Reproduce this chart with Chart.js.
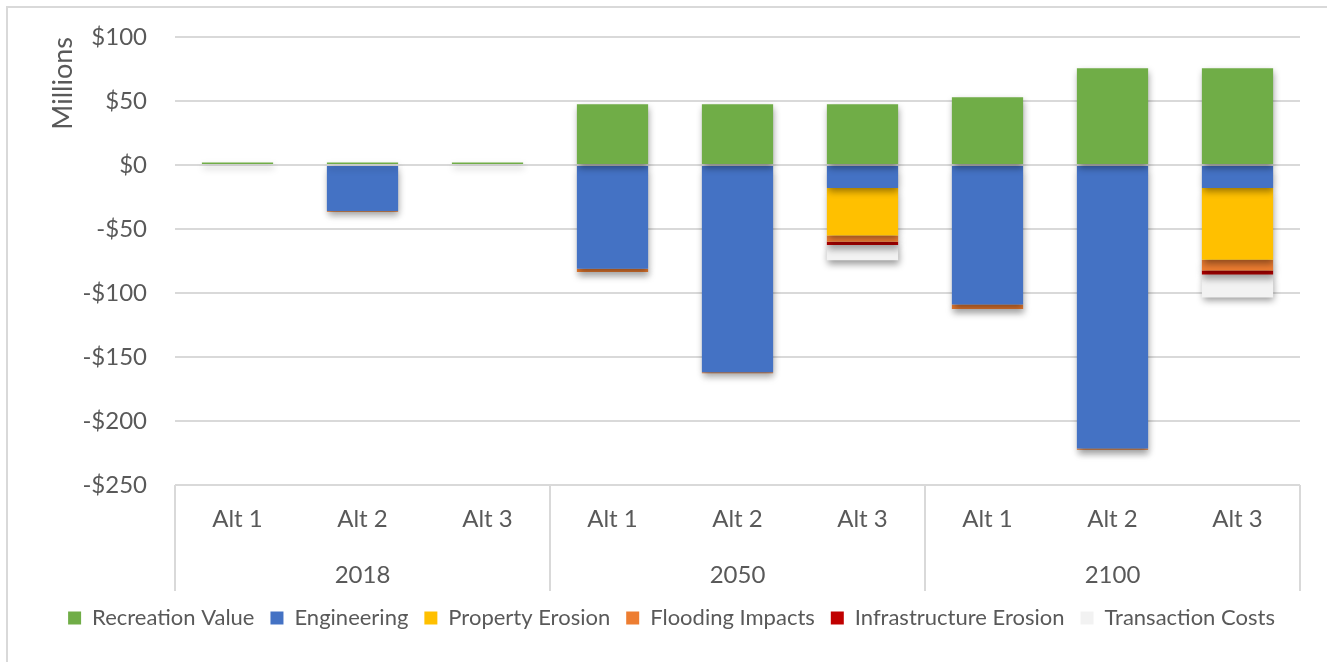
<!DOCTYPE html>
<html>
<head>
<meta charset="utf-8">
<script src="https://cdn.jsdelivr.net/npm/chart.js@4.4.1/dist/chart.umd.min.js"></script>
<style>
  body { margin: 0; background: #ffffff; }
  #wrap { position: relative; width: 1327px; height: 662px; }
</style>
</head>
<body>
<div id="wrap"><canvas id="chart"></canvas></div>
<script>
// Categories (Alt under each year)
const alts = ["Alt 1", "Alt 2", "Alt 3", "Alt 1", "Alt 2", "Alt 3", "Alt 1", "Alt 2", "Alt 3"];
const years = ["2018", "2050", "2100"];

// Values in millions of dollars
const recreation = [2, 2, 2, 47.5, 47.5, 47.5, 53, 75.5, 75.5];
const engineering = [0, -36, 0, -81, -162, -18, -109, -221.5, -18];
const propertyErosion = [0, 0, 0, 0, 0, -37, 0, 0, -56];
const flooding = [0, -0.6, 0, -2.5, -0.7, -5, -3.5, -1, -8.5];
const infrastructure = [0, 0, 0, 0, 0, -2.5, 0, 0, -3];
const transaction = [0, 0, 0, 0, 0, -12, 0, 0, -18];

const textColor = "#595959";
const gridColor = "#d9d9d9";
const fontFamily = "Lato, 'Open Sans', sans-serif";

// Soft shadow under the bars, like the spreadsheet effect
const shadowPlugin = {
  id: "shadow",
  beforeDatasetsDraw(chart) {
    const ctx = chart.ctx;
    ctx.save();
    ctx.shadowColor = "rgba(0,0,0,0.4)";
    ctx.shadowBlur = 7;
    ctx.shadowOffsetX = 1;
    ctx.shadowOffsetY = 4;
  },
  afterDatasetsDraw(chart) {
    chart.ctx.restore();
  }
};

// Outer frame and the group separators of the two-level axis
const framePlugin = {
  id: "frame",
  afterDraw(chart) {
    const ctx = chart.ctx;
    const x = chart.scales.x;
    const x2 = chart.scales.x2;
    const step = x.getPixelForValue(1) - x.getPixelForValue(0);
    ctx.save();
    ctx.strokeStyle = gridColor;
    ctx.lineWidth = 2;
    ctx.beginPath();
    ctx.moveTo(7, chart.height);
    ctx.lineTo(7, 7);
    ctx.lineTo(chart.width, 7);
    ctx.stroke();
    for (let i = 0; i <= alts.length; i += 3) {
      const px = Math.round(x.getPixelForValue(0) - step / 2 + i * step);
      ctx.beginPath();
      ctx.moveTo(px, chart.chartArea.bottom);
      ctx.lineTo(px, x2.bottom);
      ctx.stroke();
    }
    ctx.restore();
  }
};

const makeSet = (label, data, color) => ({
  label: label,
  data: data,
  backgroundColor: color,
  borderWidth: 0,
  barPercentage: 0.57,
  categoryPercentage: 1.0
});

new Chart(document.getElementById("chart"), {
  type: "bar",
  plugins: [shadowPlugin, framePlugin],
  data: {
    labels: alts,
    datasets: [
      makeSet("Recreation Value", recreation, "#70ad47"),
      makeSet("Engineering", engineering, "#4472c4"),
      makeSet("Property Erosion", propertyErosion, "#ffc000"),
      makeSet("Flooding Impacts", flooding, "#ed7d31"),
      makeSet("Infrastructure Erosion", infrastructure, "#c00000"),
      makeSet("Transaction Costs", transaction, "#f2f2f2")
    ]
  },
  options: {
    responsive: true,
    maintainAspectRatio: false,
    animation: false,
    layout: {
      padding: { left: 43, right: 27, top: 37, bottom: 23 }
    },
    plugins: {
      tooltip: { enabled: false },
      legend: {
        position: "bottom",
        labels: {
          color: textColor,
          font: { family: fontFamily, size: 22 },
          boxWidth: 13,
          boxHeight: 13,
          padding: 16
        }
      }
    },
    scales: {
      x: {
        stacked: true,
        grid: { display: false, drawTicks: false },
        border: { display: false },
        ticks: {
          color: textColor,
          font: { family: fontFamily, size: 24 },
          padding: 20,
          maxRotation: 0
        },
        afterFit: (scale) => { scale.height = 55; }
      },
      x2: {
        type: "category",
        labels: years,
        position: "bottom",
        weight: 1,
        offset: true,
        grid: { display: false, drawTicks: false },
        border: { display: false },
        ticks: {
          color: textColor,
          font: { family: fontFamily, size: 24 },
          padding: 21,
          maxRotation: 0
        },
        afterFit: (scale) => { scale.height = 51; }
      },
      y: {
        stacked: true,
        min: -250,
        max: 100,
        border: { display: false },
        grid: { color: gridColor, lineWidth: 2, drawTicks: true, tickLength: 28, tickColor: "rgba(0,0,0,0)" },
        title: {
          display: true,
          text: "Millions",
          align: "end",
          color: textColor,
          font: { family: fontFamily, size: 27 }
        },
        ticks: {
          stepSize: 50,
          padding: 0,
          color: textColor,
          font: { family: fontFamily, size: 24 },
          callback: (v) => (v < 0 ? "-$" + Math.abs(v) : "$" + v)
        },
        afterFit: (scale) => { scale.width = 132; }
      }
    }
  }
});
</script>
</body>
</html>
